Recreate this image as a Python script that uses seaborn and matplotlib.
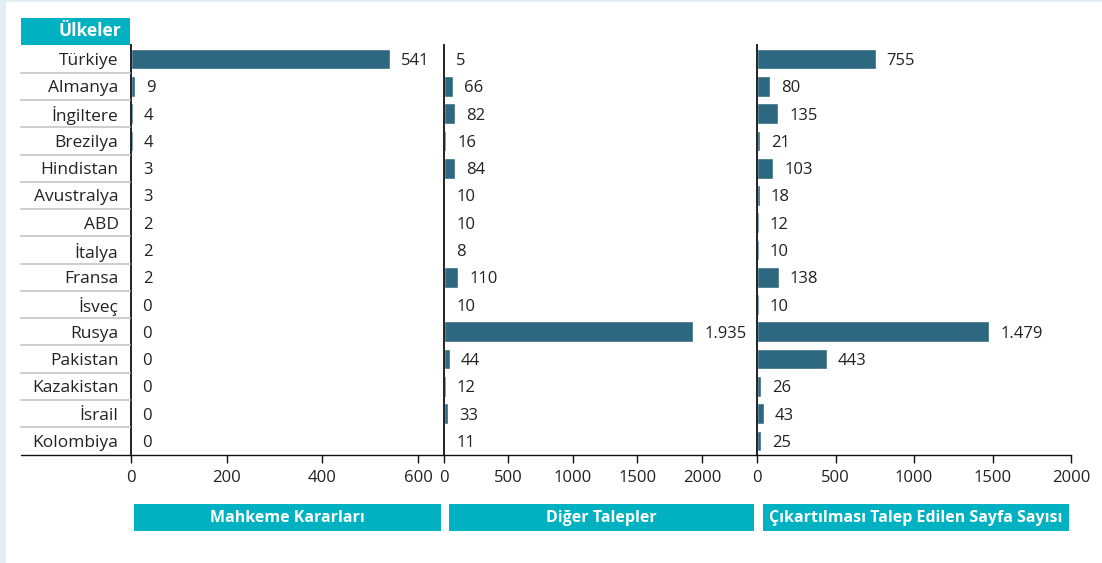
import numpy as np
import pandas as pd
import matplotlib
matplotlib.use("Agg")
import matplotlib.pyplot as plt
import seaborn as sns
from matplotlib.patches import Rectangle
from matplotlib.lines import Line2D

countries = ["Türkiye", "Almanya", "İngiltere", "Brezilya", "Hindistan", "Avustralya",
             "ABD", "İtalya", "Fransa", "İsveç", "Rusya", "Pakistan", "Kazakistan",
             "İsrail", "Kolombiya"]
mahkeme = [541, 9, 4, 4, 3, 3, 2, 2, 2, 0, 0, 0, 0, 0, 0]
diger = [5, 66, 82, 16, 84, 10, 10, 8, 110, 10, 1935, 44, 12, 33, 11]
sayfa = [755, 80, 135, 21, 103, 18, 12, 10, 138, 10, 1479, 443, 26, 43, 25]

panel_titles = ["Mahkeme Kararları", "Diğer Talepler", "Çıkartılması Talep Edilen Sayfa Sayısı"]
panel_ticks = [[0, 200, 400, 600], [0, 500, 1000, 1500, 2000], [0, 500, 1000, 1500, 2000]]
panel_xmax = [652, 2420, 2000]

BAR = "#2e6880"
TEAL = "#00b1c1"
BG = "#e1eff4"
W, H = 1102, 563

sns.set_theme(style="white")
plt.rcParams["font.family"] = ["Open Sans", "DejaVu Sans"]

fig = plt.figure(figsize=(W / 100, H / 100), dpi=100)
fig.patch.set_facecolor(BG)


def fx(px):
    return px / W


def fy(py):
    return 1 - py / H


# white page area
fig.patches.append(Rectangle((fx(6), 0), 1, fy(2), transform=fig.transFigure,
                             facecolor="white", edgecolor="none", zorder=-5))

top, bottom = 45.4, 454.6
panels_px = [(131, 443), (444, 756), (757, 1071)]
series = [mahkeme, diger, sayfa]


def fmt(v):
    return f"{v:,}".replace(",", ".")


axes = []
for i, ((x0, x1), vals) in enumerate(zip(panels_px, series)):
    ax = fig.add_axes([fx(x0), fy(bottom), fx(x1 - x0), (bottom - top) / H])
    ax.set_facecolor("none")
    ax.set_zorder(2)
    df = pd.DataFrame({"Ülke": countries, "Değer": vals})
    sns.barplot(data=df, x="Değer", y="Ülke", orient="h", color=BAR,
                width=0.76, ax=ax, saturation=1)
    texts = ax.bar_label(ax.containers[0], labels=[fmt(v) for v in vals], padding=8,
                         fontsize=12, color="#222222")
    for t in texts:
        t.set_va("center_baseline")
    ax.set_xlim(0, panel_xmax[i])
    ax.set_xticks(panel_ticks[i])
    ax.set_xticklabels([str(t) for t in panel_ticks[i]])
    ax.set_xlabel("")
    ax.set_ylabel("")
    for s in ["top", "right"]:
        ax.spines[s].set_visible(False)
    ax.spines["left"].set_color("#111111")
    ax.spines["left"].set_linewidth(1.3)
    ax.spines["bottom"].set_color("#111111")
    ax.spines["bottom"].set_linewidth(1.0)
    ax.tick_params(axis="x", direction="out", length=6, width=1, color="#111111",
                   labelsize=12, labelcolor="#222222", pad=5, bottom=True)
    if i == 0:
        ax.tick_params(axis="y", length=0, pad=9, labelsize=12.5, labelcolor="#222222")
    else:
        ax.tick_params(axis="y", length=0, labelleft=False)
    axes.append(ax)

# bottom line extends under the country column
fig.lines.append(Line2D([fx(21), fx(131)], [fy(bottom), fy(bottom)],
                        transform=fig.transFigure, color="#111111", lw=1.0))

# row separators in the country column
row_h = (bottom - top) / len(countries)
for k in range(1, len(countries)):
    yy = top + k * row_h
    fig.lines.append(Line2D([fx(21), fx(130)], [fy(yy), fy(yy)],
                            transform=fig.transFigure, color="#c9c9c9", lw=1.3))

# header box
fig.patches.append(Rectangle((fx(21), fy(44.5)), fx(109), 26.5 / H,
                             transform=fig.transFigure, facecolor=TEAL,
                             edgecolor="none"))
fig.text(fx(121), fy(31.5), "Ülkeler", color="white", fontsize=12.5,
         fontweight="bold", ha="right", va="center")

# panel title boxes
boxes = [(134, 441), (449, 754), (763, 1069)]
for (b0, b1), title in zip(boxes, panel_titles):
    fig.patches.append(Rectangle((fx(b0), fy(531)), fx(b1 - b0), 27.5 / H,
                                 transform=fig.transFigure, facecolor=TEAL,
                                 edgecolor="none"))
    fs = 11.5
    fig.text(fx((b0 + b1) / 2), fy(517.5), title, color="white", fontsize=fs,
             fontweight="bold", ha="center", va="center")

fig.savefig("out.png", dpi=100, facecolor=fig.get_facecolor())
